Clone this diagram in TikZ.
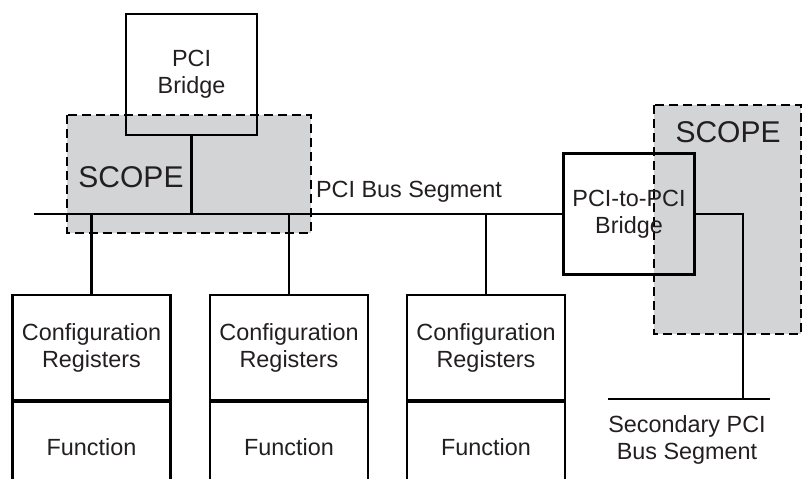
\documentclass[tikz,border=0pt]{standalone}
\usepackage{fontspec}
\setmainfont{Liberation Sans}
\usetikzlibrary{positioning}
\definecolor{scopegray}{RGB}{211,212,214}
\definecolor{textgray}{RGB}{35,31,32}

\begin{document}
\begin{tikzpicture}[
    x=0.5pt, y=-0.5pt,
    every node/.style={font=\fontsize{11.7}{13.5}\selectfont, text=textgray},
    box/.style={draw, line width=1.1pt, align=center, inner sep=0pt, minimum width=79pt},
    bridge/.style={draw, line width=1.1pt, align=center, inner sep=0pt, minimum width=65.5pt, minimum height=60.5pt},
    scoperegion/.style={fill=scopegray, draw, dashed, dash pattern=on 4.5pt off 2.5pt, line width=0.7pt},
    scopelabel/.style={font=\fontsize{15}{18}\selectfont},
    bus/.style={line width=1.1pt}
]
\clip (0,0) rectangle (806,478);
% scope regions behind everything else
\draw[scoperegion] (67,115) rectangle (311,233);
\draw[scoperegion] (654,105) rectangle (801,334);
\node[scopelabel] (scopeA) at (131,177) {SCOPE};
\node[scopelabel] (scopeB) at (728,132) {SCOPE};

\node[bridge] (pcibr) at (191.5,74.5) {PCI\\Bridge};
\node[bridge] (p2p) at (629,214) {PCI-to-PCI\\Bridge};

\node[box, minimum height=52.5pt] (cfg1) at (91.5,347.5) {Configuration\\Registers};
\node[box, minimum height=52.5pt] (cfg2) at (289,347.5) {Configuration\\Registers};
\node[box, minimum height=52.5pt] (cfg3) at (486,347.5) {Configuration\\Registers};
\node[box, minimum height=45pt, below=0pt of cfg1] (fn1) {Function};
\node[box, minimum height=45pt, below=0pt of cfg2] (fn2) {Function};
\node[box, minimum height=45pt, below=0pt of cfg3] (fn3) {Function};

\coordinate (busL) at (34,214);
\node (buslabel) at (409,192) {PCI Bus Segment};
\draw[bus] (busL) -- (p2p.west);
\draw[bus] (pcibr.south) -- (pcibr.south |- busL);
\foreach \n in {cfg1,cfg2,cfg3}
  \draw[bus] (\n.north) -- (\n.north |- busL);

% secondary bus
\coordinate (secL) at (608,399);
\coordinate (secR) at (770,399);
\coordinate (secTap) at (743,399);
\draw[bus] (secL) -- (secR);
\draw[bus] (p2p.east) -| (secTap);
\node[align=center] (seclabel) at (687,440) {Secondary PCI\\Bus Segment};
\end{tikzpicture}
\end{document}
